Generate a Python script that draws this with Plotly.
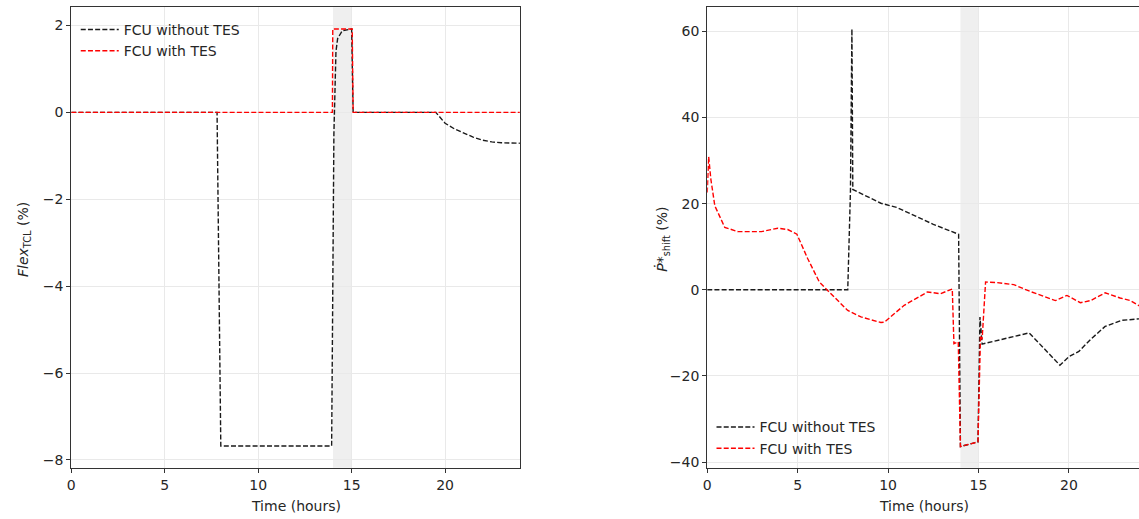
import plotly.graph_objects as go

# ---------------- data ----------------
# Left panel: Flex_TCL (%)
left_x_without = [0, 7.8, 8.0, 13.93, 14.05, 14.1, 14.16, 14.25, 14.5, 15.0, 15.08,
                  19.5, 19.8, 20.0, 20.5, 21.0, 21.5, 22.0, 22.5, 23.0, 24.0]
left_y_without = [0, 0, -7.68, -7.68, -0.5, 0.6, 1.4, 1.7, 1.88, 1.92, 0.0,
                  0.0, -0.15, -0.25, -0.38, -0.48, -0.57, -0.64, -0.68, -0.70, -0.71]
left_x_with = [0, 13.97, 13.99, 15.03, 15.08, 24.0]
left_y_with = [0, 0, 1.92, 1.92, 0, 0]

# Right panel: P*_shift (%)
right_x_without = [0, 7.77, 7.92, 8.0, 8.05, 9.6, 10.5, 11.5, 12.5, 13.9, 13.95, 14.0,
                   14.97, 15.08, 15.2, 17.8, 19.5, 20.0, 20.55, 21.2, 22.0, 22.9, 24.0]
right_y_without = [0, 0, 23, 60.6, 23.3, 20.1, 19.1, 17.2, 15.2, 12.9, -12.1, -36.4,
                   -35.3, -6.3, -12.6, -10.0, -17.5, -15.5, -14.3, -11.5, -8.5, -7.1, -6.7]
right_x_with = [0, 0.08, 0.2, 0.42, 0.97, 1.7, 3.0, 3.9, 4.45, 4.96, 5.56, 6.2, 6.66,
                7.77, 8.5, 9.6, 9.8, 10.89, 12.18, 12.9, 13.55, 13.64, 13.88, 14.0,
                14.97, 15.11, 15.2, 15.39, 16.0, 16.95, 17.87, 19.25, 19.89, 20.63,
                21.2, 22.0, 22.83, 23.4, 24.0]
right_y_with = [22.6, 30.9, 25.7, 19.5, 14.5, 13.5, 13.5, 14.3, 14.0, 12.9, 7.2, 1.8,
                -0.15, -4.8, -6.3, -7.6, -7.5, -3.6, -0.5, -0.9, 0.2, -12.5, -12.1,
                -36.4, -35.3, -10.6, -11.5, 1.8, 1.7, 1.2, -0.4, -2.5, -1.3, -3.0,
                -2.5, -0.7, -1.9, -2.5, -4.0]

series_names = ["FCU without TES", "FCU with TES"]
x_ticks = [0, 5, 10, 15, 20]
left_y_ticks = [-8, -6, -4, -2, 0, 2]
right_y_ticks = [-40, -20, 0, 20, 40, 60]
event_window = [14, 15]

# ---------------- figure ----------------
W, H = 1139, 519
FONT = "DejaVu Sans"
TXT = "#262626"
BLACK = "#1a1a1a"
RED = "#ff0000"
DASH = "5px,2.2px"

fig = go.Figure()

fig.add_trace(go.Scatter(x=left_x_without, y=left_y_without, mode="lines",
                         name=series_names[0], legend="legend",
                         line=dict(color=BLACK, width=1.4, dash=DASH),
                         xaxis="x", yaxis="y"))
fig.add_trace(go.Scatter(x=left_x_with, y=left_y_with, mode="lines",
                         name=series_names[1], legend="legend",
                         line=dict(color=RED, width=1.4, dash=DASH),
                         xaxis="x", yaxis="y"))
fig.add_trace(go.Scatter(x=right_x_without, y=right_y_without, mode="lines",
                         name=series_names[0], legend="legend2",
                         line=dict(color=BLACK, width=1.4, dash=DASH),
                         xaxis="x2", yaxis="y2"))
fig.add_trace(go.Scatter(x=right_x_with, y=right_y_with, mode="lines",
                         name=series_names[1], legend="legend2",
                         line=dict(color=RED, width=1.4, dash=DASH),
                         xaxis="x2", yaxis="y2"))

left_dom = [67.5 / W, 517.7 / W]
right_dom = [705.7 / W, 1.0]
ydom = [1 - 469.5 / H, 1 - 7.3 / H]
right_xmax = (W - 705.7) / 18.15

common_axis = dict(showline=True, linecolor="#333333", linewidth=1.1,
                   ticks="outside", ticklen=4, tickwidth=1.1, tickcolor="#333333",
                   showgrid=True, gridcolor="#e9e9e9", gridwidth=1.3,
                   zeroline=False, tickfont=dict(family=FONT, size=14, color=TXT))

fig.update_layout(
    width=W, height=H,
    margin=dict(l=0, r=0, t=0, b=0),
    paper_bgcolor="white", plot_bgcolor="white",
    font=dict(family=FONT, size=14, color=TXT),
    xaxis=dict(domain=left_dom, range=[0, 24], tickvals=x_ticks, anchor="y",
               mirror=True, **common_axis),
    yaxis=dict(domain=ydom, range=[-8.18, 2.42], tickvals=left_y_ticks, anchor="x",
               mirror=True, **common_axis),
    xaxis2=dict(domain=right_dom, range=[0, right_xmax], tickvals=x_ticks, anchor="y2",
                mirror=True, **common_axis),
    yaxis2=dict(domain=ydom, range=[-41.3, 65.6], tickvals=right_y_ticks, anchor="x2",
                mirror=False, **common_axis),
    legend=dict(x=72 / W, y=1 - 14 / H, xanchor="left", yanchor="top",
                bgcolor="rgba(255,255,255,0)", font=dict(family=FONT, size=14, color=TXT),
                itemwidth=38),
    legend2=dict(x=710 / W, y=1 - 413 / H, xanchor="left", yanchor="top",
                 bgcolor="rgba(255,255,255,0)", font=dict(family=FONT, size=14, color=TXT),
                 itemwidth=38),
    showlegend=True,
)

for xr, yr in (("x", "y"), ("x2", "y2")):
    fig.add_shape(type="rect", xref=xr, yref=yr + " domain",
                  x0=event_window[0], x1=event_window[1], y0=0, y1=1,
                  fillcolor="#efefef", line=dict(width=0), layer="below")

# axis titles
fig.add_annotation(text="Time (hours)", xref="paper", yref="paper",
                   x=(68.3 + 517.7) / 2 / W, y=1 - 508 / H, showarrow=False,
                   xanchor="center", yanchor="middle", font=dict(size=14, color=TXT))
fig.add_annotation(text="Time (hours)", xref="paper", yref="paper",
                   x=(705.7 + 1141.3) / 2 / W, y=1 - 508 / H, showarrow=False,
                   xanchor="center", yanchor="middle", font=dict(size=14, color=TXT))
fig.add_annotation(text="<i>Flex</i><sub>TCL</sub> (%)", xref="paper", yref="paper",
                   x=20 / W, y=1 - 240 / H, showarrow=False, textangle=-90,
                   xanchor="center", yanchor="middle", font=dict(size=14, color=TXT))
fig.add_annotation(text="<i>Ṗ</i>*<sub>shift</sub> (%)", xref="paper", yref="paper",
                   x=660 / W, y=1 - 240 / H, showarrow=False, textangle=-90,
                   xanchor="center", yanchor="middle", font=dict(size=14, color=TXT))

fig.write_html("out.html",
               config={"displayModeBar": False},
               post_script="document.body.style.margin='0px';"
                           "document.body.style.overflow='hidden';")
